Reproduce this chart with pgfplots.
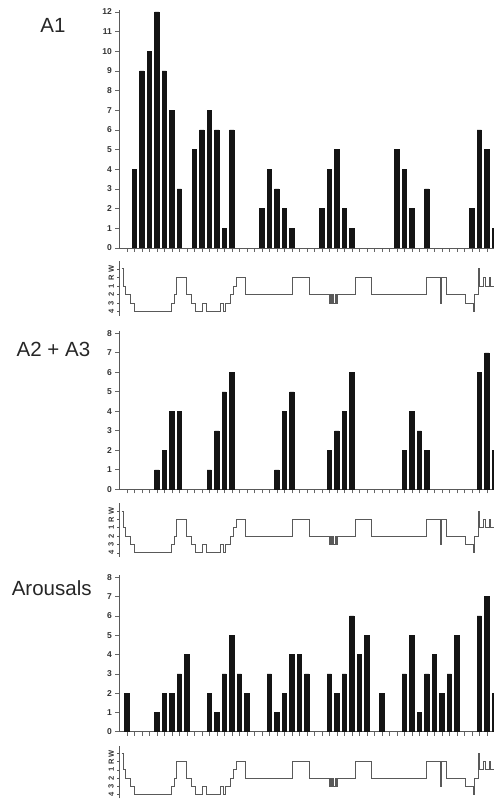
\documentclass[border=0pt]{standalone}
\usepackage{fontspec}
\setmainfont{Liberation Sans}
\usepackage{pgfplots}
\usepackage{pgfplotstable}
\pgfplotsset{compat=1.18}

% bar counts per slot
\pgfplotstableread{
x y
2 4
3 9
4 10
5 12
6 9
7 7
8 3
10 5
11 6
12 7
13 6
14 1
15 6
19 2
20 4
21 3
22 2
23 1
27 2
28 4
29 5
30 2
31 1
37 5
38 4
39 2
41 3
47 2
48 6
49 5
50 1
}\aone
\pgfplotstableread{
x y
5 1
6 2
7 4
8 4
12 1
13 3
14 5
15 6
21 1
22 4
23 5
28 2
29 3
30 4
31 6
38 2
39 4
40 3
41 2
48 6
49 7
50 2
}\atwo
\pgfplotstableread{
x y
1 2
5 1
6 2
7 2
8 3
9 4
12 2
13 1
14 3
15 5
16 3
17 2
20 3
21 1
22 2
23 4
24 4
25 3
28 3
29 2
30 3
31 6
32 4
33 5
35 2
38 3
39 5
40 1
41 3
42 4
43 2
44 3
45 5
48 6
49 7
50 2
}\arous
% hypnogram: 0=S4 1=S3 2=S2 3=S1 4=REM 5=W
\pgfplotstableread{
x s
0.3 5
0.5 3
0.76 2
1.43 1
2.0 0
6.99 1
7.29 2
7.65 4
8.89 2
9.65 1
10.09 0
11.12 1
11.56 0
13.43 1
13.87 0
14.09 1
14.76 2
15.2 3
15.56 4
16.76 2
23.12 4
25.33 2
28.0 1
28.15 2
28.3 1
28.45 2
28.6 1
28.75 2
28.9 1
29.07 2
31.43 4
33.65 2
40.89 4
42.76 1
42.95 4
43.65 2
46.09 1
47.2 0
47.4 2
47.9 5
48.05 3
48.6 4
48.75 3
49.3 4
49.45 3
50 3
}\hyp

\pgfplotsset{
  barpanel/.style={
    scale only axis, width=375pt, anchor=south west,
    xmin=0, xmax=50, ymin=0,
    axis x line*=bottom, axis y line*=left,
    xtick={1,...,50}, xticklabels={},
    tick align=outside, major tick length=4pt,
    axis line style={draw=black!65, line width=0.8pt},
    every tick/.style={draw=black!60, line width=0.6pt},
    yticklabel style={font=\bfseries\fontsize{8.5}{9}\selectfont, text=black!80},
    /pgf/number format/assume math mode=true,
  },
  hypno/.style={
    scale only axis, width=375pt, anchor=south west,
    xmin=0, xmax=50, ymin=-0.5, ymax=5.9,
    axis x line=none, axis y line*=left,
    ytick={0,...,5}, yticklabels={4,3,2,1,R,W},
    tick align=outside, major tick length=2pt,
    axis line style={draw=black!65, line width=0.8pt},
    every tick/.style={draw=black!65},
    yticklabel style={rotate=90, anchor=south, font=\bfseries\fontsize{7.5}{7.5}\selectfont, text=black!80},
  },
}

\begin{document}
\begin{tikzpicture}[x=1pt,y=1pt]
\useasboundingbox (0,0) rectangle (494,803);

% A1
\begin{axis}[barpanel, at={(119.3pt,555pt)}, height=238pt, ymax=12.1, ytick={0,...,12}]
\addplot[ybar, bar width=4.3pt, fill=black!92, draw=black!92] table[x=x,y=y] {\aone};
\end{axis}
\begin{axis}[hypno, at={(119.3pt,487pt)}, height=55pt]
\addplot[const plot, draw=black!65, line width=0.8pt] table[x=x,y=s] {\hyp};
\end{axis}

% A2 + A3
\begin{axis}[barpanel, at={(119.3pt,313.7pt)}, height=158pt, ymax=8.1, ytick={0,...,8}]
\addplot[ybar, bar width=4.3pt, fill=black!92, draw=black!92] table[x=x,y=y] {\atwo};
\end{axis}
\begin{axis}[hypno, at={(119.3pt,246.1pt)}, height=53.4pt]
\addplot[const plot, draw=black!65, line width=0.8pt] table[x=x,y=s] {\hyp};
\end{axis}

% Arousals
\begin{axis}[barpanel, at={(119.3pt,71.3pt)}, height=156.3pt, ymax=8.1, ytick={0,...,8}]
\addplot[ybar, bar width=4.3pt, fill=black!92, draw=black!92] table[x=x,y=y] {\arous};
\end{axis}
\begin{axis}[hypno, at={(119.3pt,4.6pt)}, height=52.2pt]
\addplot[const plot, draw=black!65, line width=0.8pt] table[x=x,y=s] {\hyp};
\end{axis}

\node[font=\fontsize{20.5}{24}\selectfont, text=black!85] at (53,778) {A1};
\node[font=\fontsize{20.5}{24}\selectfont, text=black!85] at (53.5,454) {A2 + A3};
\node[font=\fontsize{20.5}{24}\selectfont, text=black!85] at (51.7,215) {Arousals};
\end{tikzpicture}
\end{document}
